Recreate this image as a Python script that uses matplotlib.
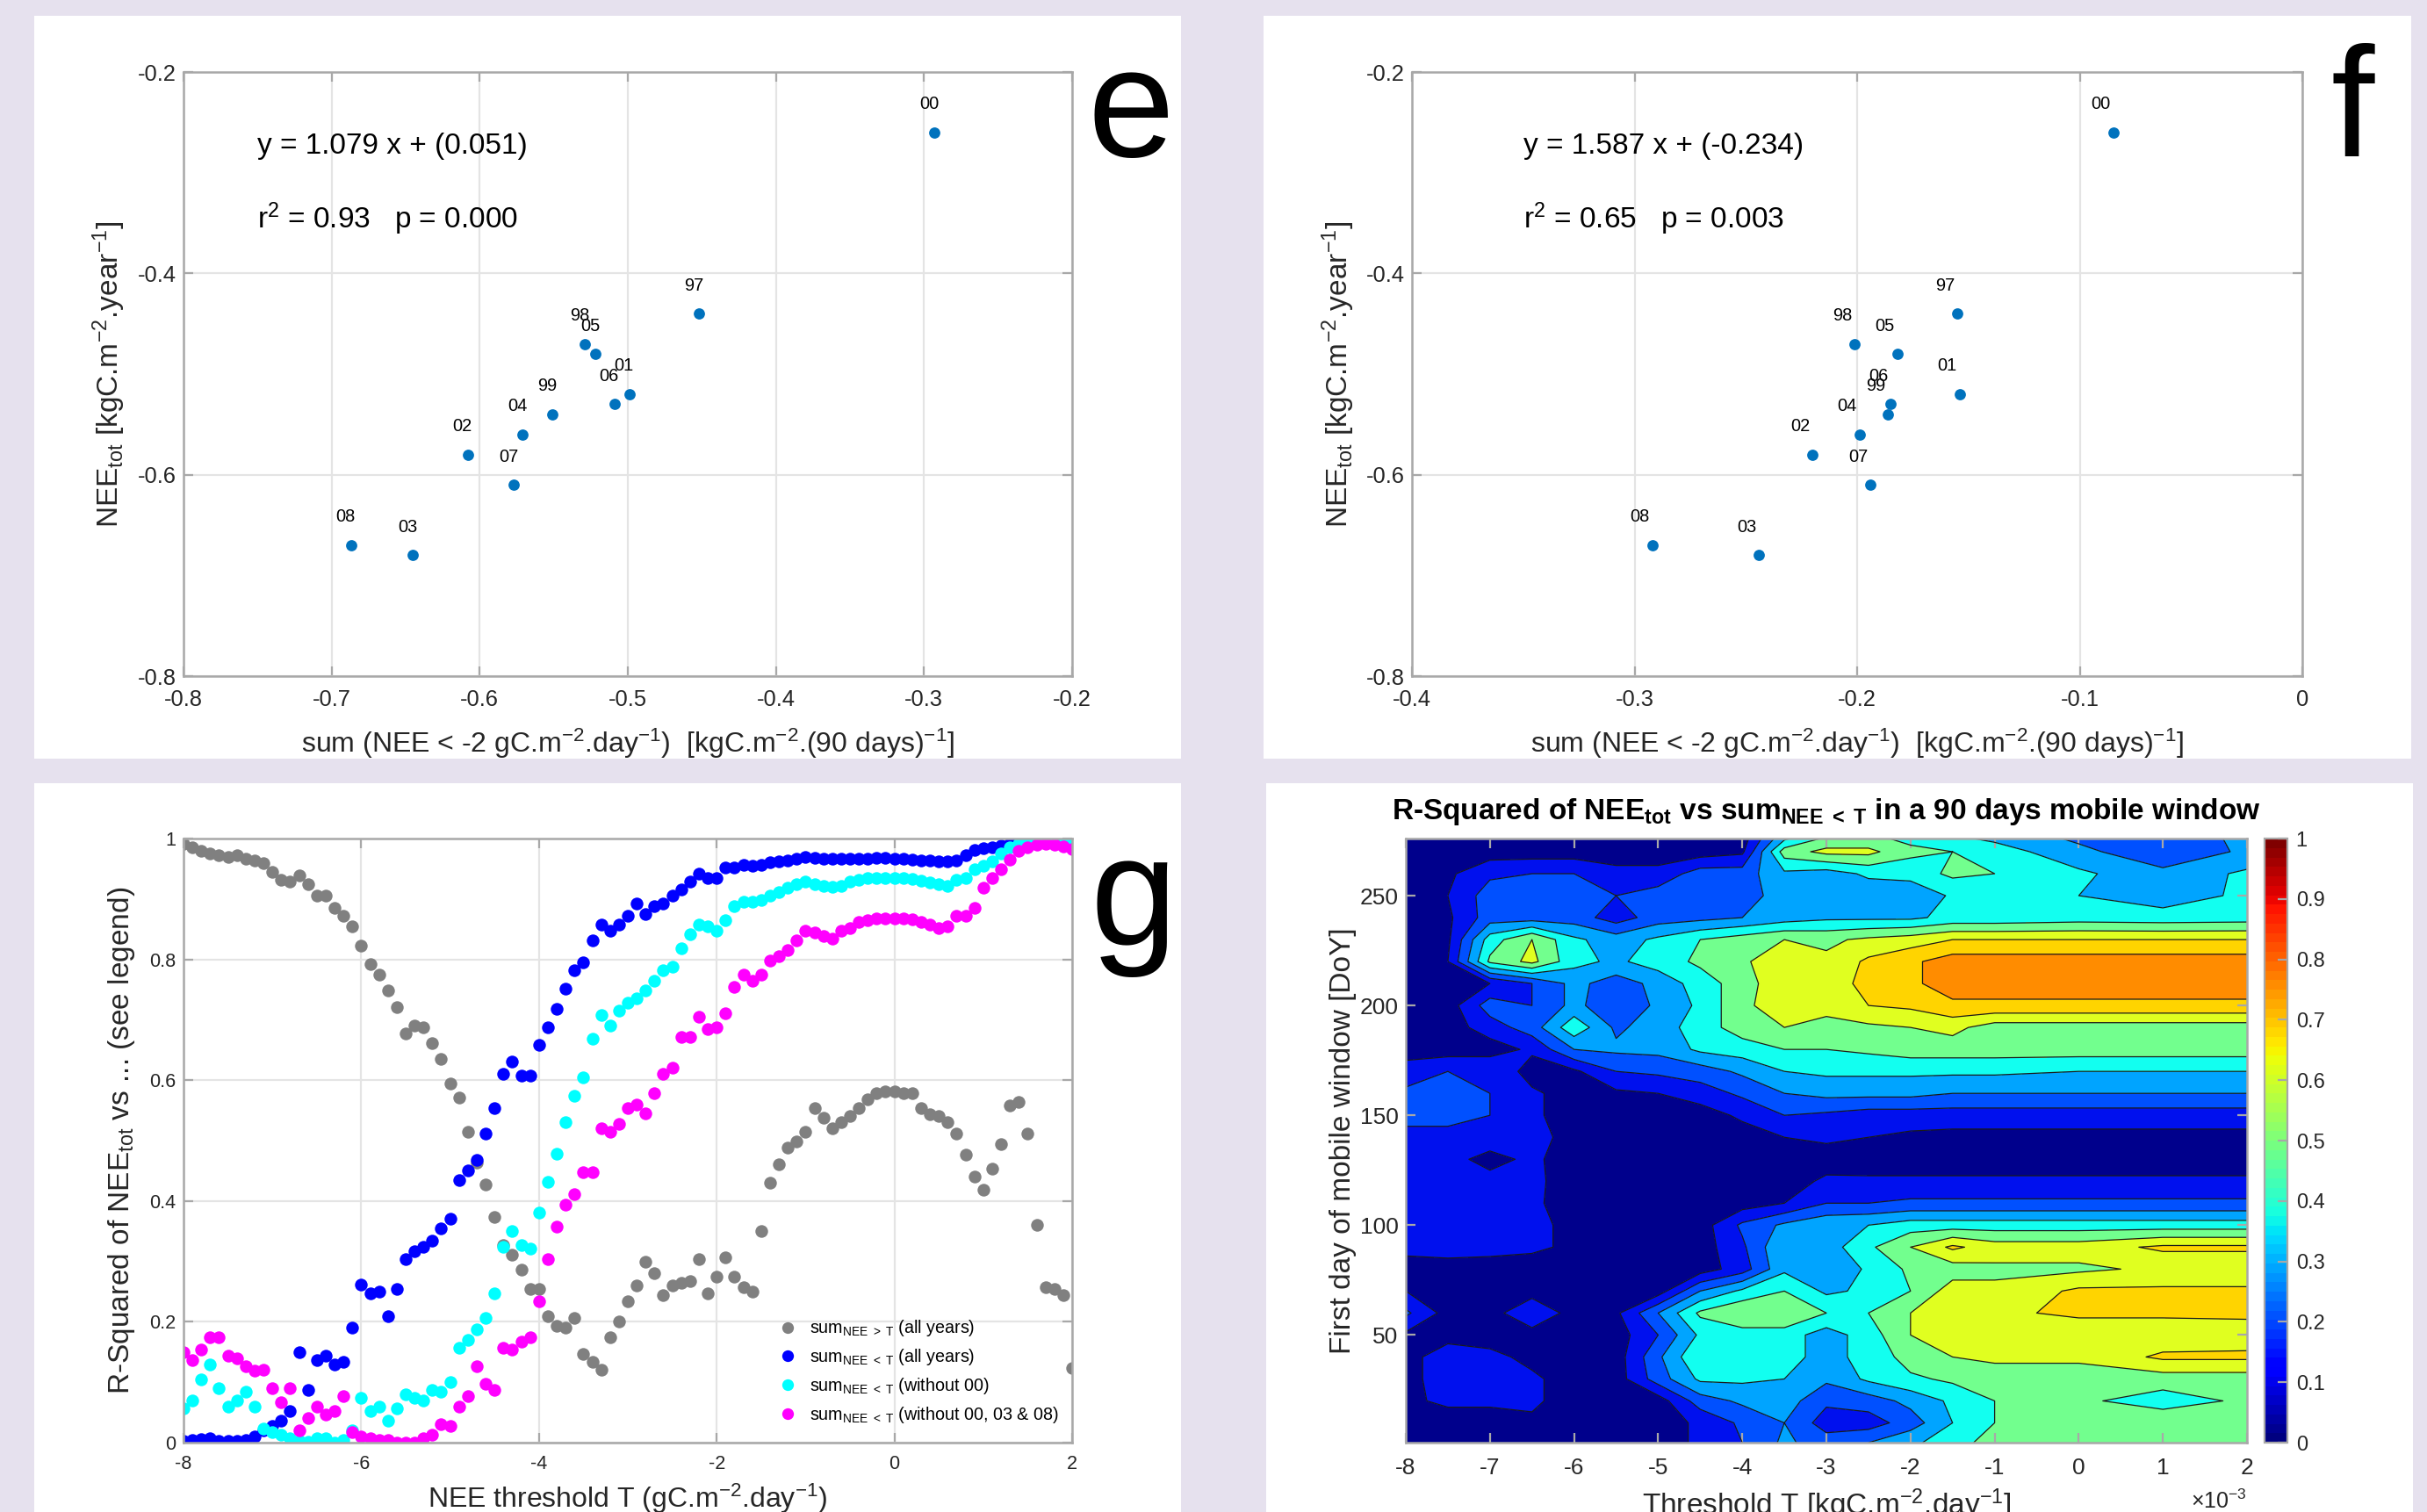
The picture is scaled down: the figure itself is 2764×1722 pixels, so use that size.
import numpy as np
import matplotlib
matplotlib.use("Agg")
import matplotlib.pyplot as plt
from matplotlib.patches import Rectangle
from matplotlib.colors import Normalize
from matplotlib.cm import ScalarMappable
from matplotlib.ticker import FuncFormatter

# ------------------------------------------------------------------
# fonts / global style
# ------------------------------------------------------------------
FONT = "Liberation Sans"
plt.rcParams["font.family"] = [FONT, "DejaVu Sans"]
plt.rcParams["mathtext.fontset"] = "custom"
plt.rcParams["mathtext.rm"] = FONT
plt.rcParams["mathtext.it"] = FONT + ":italic"
plt.rcParams["mathtext.bf"] = FONT + ":bold"
plt.rcParams["axes.unicode_minus"] = False

# ------------------------------------------------------------------
# panels e / f : annual NEE vs sum of NEE below -2 gC
# ------------------------------------------------------------------
years    = ["00", "97", "98", "05", "01", "06", "99", "04", "02", "07", "08", "03"]
nee_tot  = [-0.26, -0.44, -0.47, -0.48, -0.52, -0.53, -0.54, -0.56, -0.58, -0.61, -0.67, -0.68]
sum_e    = [-0.293, -0.452, -0.529, -0.522, -0.499, -0.509, -0.551, -0.571, -0.608, -0.577, -0.687, -0.645]
sum_f    = [-0.085, -0.155, -0.201, -0.182, -0.154, -0.185, -0.186, -0.199, -0.220, -0.194, -0.292, -0.244]

# ------------------------------------------------------------------
# panel g : R-squared vs NEE threshold T (gC.m-2.day-1)
# ------------------------------------------------------------------
thr_g = np.linspace(-8, 2, 101)   # threshold grid, 0.1 step

r2_above_all = [
    0.992, 0.985, 0.980, 0.975, 0.972, 0.970, 0.972, 0.967, 0.963, 0.959,
    0.945, 0.932, 0.929, 0.939, 0.925, 0.905, 0.905, 0.885, 0.872, 0.855,
    0.822, 0.792, 0.775, 0.748, 0.721, 0.678, 0.691, 0.688, 0.661, 0.635,
    0.595, 0.571, 0.514, 0.464, 0.428, 0.374, 0.327, 0.311, 0.287, 0.254,
    0.254, 0.210, 0.194, 0.190, 0.207, 0.147, 0.134, 0.120, 0.174, 0.200,
    0.234, 0.260, 0.300, 0.281, 0.244, 0.260, 0.264, 0.267, 0.304, 0.247,
    0.274, 0.306, 0.274, 0.257, 0.250, 0.350, 0.430, 0.461, 0.488, 0.498,
    0.514, 0.554, 0.538, 0.521, 0.531, 0.541, 0.554, 0.568, 0.578, 0.581,
    0.581, 0.578, 0.578, 0.554, 0.544, 0.541, 0.531, 0.511, 0.477, 0.441,
    0.418, 0.454, 0.494, 0.558, 0.564, 0.511, 0.361, 0.257, 0.254, 0.244,
    0.124]

r2_below_all = [
    0.003, 0.004, 0.006, 0.007, 0.003, 0.003, 0.003, 0.005, 0.010, 0.020,
    0.027, 0.037, 0.053, 0.150, 0.087, 0.137, 0.144, 0.130, 0.134, 0.190,
    0.261, 0.247, 0.250, 0.210, 0.254, 0.304, 0.317, 0.324, 0.334, 0.354,
    0.371, 0.434, 0.451, 0.468, 0.511, 0.554, 0.611, 0.631, 0.608, 0.608,
    0.658, 0.688, 0.718, 0.751, 0.782, 0.795, 0.832, 0.858, 0.848, 0.858,
    0.872, 0.892, 0.875, 0.888, 0.892, 0.905, 0.915, 0.929, 0.942, 0.935,
    0.935, 0.952, 0.952, 0.957, 0.955, 0.957, 0.961, 0.962, 0.963, 0.967,
    0.970, 0.968, 0.966, 0.966, 0.967, 0.967, 0.967, 0.967, 0.968, 0.968,
    0.967, 0.966, 0.965, 0.964, 0.963, 0.962, 0.962, 0.964, 0.972, 0.981,
    0.984, 0.986, 0.989, 0.992, 0.995, 0.997, 0.998, 0.998, 0.998, 0.998,
    0.998]

r2_below_no00 = [
    0.057, 0.070, 0.104, 0.130, 0.090, 0.060, 0.070, 0.084, 0.060, 0.023,
    0.017, 0.013, 0.007, 0.003, 0.002, 0.007, 0.007, 0.000, 0.005, 0.020,
    0.074, 0.053, 0.060, 0.037, 0.057, 0.080, 0.074, 0.070, 0.087, 0.084,
    0.100, 0.157, 0.170, 0.187, 0.207, 0.247, 0.324, 0.351, 0.327, 0.321,
    0.381, 0.431, 0.478, 0.531, 0.574, 0.605, 0.668, 0.708, 0.691, 0.715,
    0.728, 0.735, 0.748, 0.765, 0.782, 0.788, 0.818, 0.842, 0.858, 0.855,
    0.848, 0.865, 0.888, 0.895, 0.895, 0.898, 0.905, 0.912, 0.918, 0.925,
    0.929, 0.925, 0.922, 0.920, 0.922, 0.929, 0.932, 0.935, 0.935, 0.935,
    0.935, 0.935, 0.933, 0.930, 0.927, 0.925, 0.922, 0.932, 0.935, 0.949,
    0.955, 0.962, 0.975, 0.986, 0.992, 0.995, 0.995, 0.995, 0.995, 0.995,
    0.994]

r2_below_no000308 = [
    0.150, 0.137, 0.154, 0.174, 0.174, 0.144, 0.140, 0.127, 0.119, 0.120,
    0.090, 0.067, 0.090, 0.020, 0.041, 0.060, 0.047, 0.053, 0.077, 0.017,
    0.010, 0.007, 0.005, 0.005, 0.000, 0.000, 0.000, 0.007, 0.013, 0.030,
    0.027, 0.060, 0.077, 0.127, 0.097, 0.087, 0.157, 0.154, 0.167, 0.174,
    0.234, 0.304, 0.357, 0.394, 0.411, 0.448, 0.448, 0.521, 0.514, 0.528,
    0.554, 0.560, 0.545, 0.578, 0.611, 0.621, 0.671, 0.671, 0.705, 0.685,
    0.688, 0.711, 0.755, 0.775, 0.765, 0.775, 0.798, 0.805, 0.815, 0.832,
    0.848, 0.845, 0.838, 0.835, 0.848, 0.852, 0.862, 0.865, 0.868, 0.868,
    0.868, 0.868, 0.867, 0.862, 0.858, 0.852, 0.855, 0.872, 0.872, 0.885,
    0.918, 0.935, 0.949, 0.965, 0.979, 0.985, 0.990, 0.992, 0.990, 0.987,
    0.983]

series_g = [
    (r2_above_all,      "#808080", r"sum$_{\mathrm{NEE\ >\ T}}$ (all years)"),
    (r2_below_all,      "#0000FF", r"sum$_{\mathrm{NEE\ <\ T}}$ (all years)"),
    (r2_below_no00,     "#00FFFF", r"sum$_{\mathrm{NEE\ <\ T}}$ (without 00)"),
    (r2_below_no000308, "#FF00FF", r"sum$_{\mathrm{NEE\ <\ T}}$ (without 00, 03 & 08)"),
]

# ------------------------------------------------------------------
# panel h : R-squared map, threshold (x1e-3 kgC) vs first day of window
# ------------------------------------------------------------------
thr_h = [-8, -7.5, -7, -6.5, -6, -5.5, -5, -4.5, -4, -3.5, -3, -2.5, -2, -1.5, -1, 0, 1, 2]
doy_h = [1, 10, 20, 30, 40, 50, 60, 70, 80, 90, 100, 110, 120, 130, 140,
         150, 160, 170, 180, 190, 200, 210, 220, 230, 240, 250, 260, 270, 276]
r2_map = [
    [0.05, 0.05, 0.05, 0.05, 0.05, 0.05, 0.05, 0.12, 0.20, 0.32, 0.25, 0.30, 0.38, 0.45, 0.55, 0.60, 0.60, 0.60],
    [0.05, 0.05, 0.05, 0.08, 0.05, 0.05, 0.05, 0.12, 0.22, 0.30, 0.15, 0.15, 0.25, 0.40, 0.50, 0.60, 0.58, 0.60],
    [0.08, 0.12, 0.12, 0.12, 0.05, 0.05, 0.05, 0.25, 0.32, 0.35, 0.22, 0.25, 0.33, 0.42, 0.50, 0.52, 0.45, 0.52],
    [0.08, 0.13, 0.13, 0.12, 0.05, 0.05, 0.25, 0.42, 0.42, 0.40, 0.32, 0.42, 0.48, 0.52, 0.55, 0.55, 0.55, 0.55],
    [0.08, 0.13, 0.13, 0.07, 0.05, 0.05, 0.28, 0.50, 0.50, 0.42, 0.38, 0.42, 0.55, 0.60, 0.62, 0.62, 0.72, 0.72],
    [0.08, 0.08, 0.05, 0.05, 0.05, 0.05, 0.20, 0.42, 0.45, 0.45, 0.35, 0.45, 0.60, 0.62, 0.63, 0.63, 0.63, 0.65],
    [0.22, 0.06, 0.05, 0.20, 0.05, 0.08, 0.30, 0.52, 0.60, 0.60, 0.50, 0.50, 0.60, 0.65, 0.68, 0.72, 0.72, 0.72],
    [0.10, 0.05, 0.05, 0.05, 0.05, 0.05, 0.05, 0.30, 0.42, 0.50, 0.38, 0.42, 0.50, 0.65, 0.62, 0.72, 0.72, 0.72],
    [0.07, 0.07, 0.06, 0.05, 0.05, 0.05, 0.05, 0.05, 0.15, 0.38, 0.30, 0.42, 0.52, 0.55, 0.58, 0.58, 0.62, 0.62],
    [0.12, 0.13, 0.13, 0.12, 0.08, 0.05, 0.05, 0.05, 0.18, 0.40, 0.35, 0.48, 0.60, 0.72, 0.65, 0.65, 0.72, 0.72],
    [0.12, 0.12, 0.12, 0.12, 0.08, 0.05, 0.05, 0.05, 0.22, 0.32, 0.38, 0.40, 0.45, 0.45, 0.45, 0.45, 0.45, 0.45],
    [0.12, 0.13, 0.12, 0.12, 0.05, 0.05, 0.05, 0.05, 0.05, 0.10, 0.20, 0.20, 0.22, 0.22, 0.22, 0.22, 0.22, 0.22],
    [0.12, 0.13, 0.13, 0.12, 0.06, 0.05, 0.05, 0.05, 0.05, 0.05, 0.12, 0.12, 0.12, 0.12, 0.12, 0.12, 0.12, 0.12],
    [0.12, 0.13, 0.07, 0.12, 0.05, 0.05, 0.05, 0.05, 0.05, 0.05, 0.05, 0.04, 0.04, 0.04, 0.04, 0.04, 0.04, 0.04],
    [0.15, 0.18, 0.15, 0.12, 0.08, 0.05, 0.05, 0.05, 0.05, 0.10, 0.12, 0.10, 0.08, 0.07, 0.07, 0.07, 0.07, 0.07],
    [0.25, 0.22, 0.20, 0.12, 0.05, 0.05, 0.05, 0.05, 0.12, 0.20, 0.18, 0.15, 0.15, 0.15, 0.15, 0.15, 0.15, 0.15],
    [0.22, 0.22, 0.20, 0.12, 0.05, 0.08, 0.10, 0.15, 0.22, 0.30, 0.33, 0.33, 0.33, 0.30, 0.30, 0.30, 0.30, 0.30],
    [0.15, 0.20, 0.20, 0.05, 0.08, 0.20, 0.22, 0.25, 0.32, 0.40, 0.42, 0.42, 0.42, 0.42, 0.42, 0.40, 0.40, 0.40],
    [0.05, 0.05, 0.05, 0.12, 0.30, 0.32, 0.33, 0.42, 0.45, 0.50, 0.50, 0.52, 0.55, 0.55, 0.55, 0.55, 0.55, 0.55],
    [0.05, 0.05, 0.15, 0.25, 0.47, 0.28, 0.35, 0.45, 0.55, 0.60, 0.55, 0.58, 0.60, 0.63, 0.55, 0.55, 0.55, 0.55],
    [0.05, 0.05, 0.25, 0.20, 0.33, 0.22, 0.32, 0.42, 0.58, 0.65, 0.65, 0.70, 0.72, 0.78, 0.78, 0.78, 0.78, 0.78],
    [0.05, 0.05, 0.10, 0.20, 0.33, 0.25, 0.33, 0.45, 0.55, 0.68, 0.65, 0.73, 0.78, 0.85, 0.85, 0.85, 0.85, 0.85],
    [0.05, 0.10, 0.52, 0.63, 0.43, 0.38, 0.45, 0.52, 0.58, 0.68, 0.62, 0.72, 0.78, 0.85, 0.85, 0.85, 0.85, 0.85],
    [0.05, 0.08, 0.45, 0.60, 0.42, 0.35, 0.42, 0.50, 0.55, 0.60, 0.58, 0.62, 0.65, 0.70, 0.70, 0.70, 0.70, 0.70],
    [0.05, 0.08, 0.25, 0.25, 0.25, 0.15, 0.25, 0.27, 0.30, 0.35, 0.38, 0.38, 0.38, 0.43, 0.43, 0.45, 0.44, 0.45],
    [0.05, 0.10, 0.25, 0.25, 0.30, 0.20, 0.25, 0.20, 0.25, 0.35, 0.33, 0.33, 0.30, 0.42, 0.42, 0.40, 0.35, 0.42],
    [0.05, 0.08, 0.18, 0.20, 0.20, 0.13, 0.13, 0.25, 0.25, 0.38, 0.35, 0.42, 0.45, 0.52, 0.50, 0.42, 0.33, 0.42],
    [0.05, 0.05, 0.05, 0.05, 0.05, 0.05, 0.05, 0.05, 0.08, 0.55, 0.63, 0.63, 0.52, 0.50, 0.45, 0.33, 0.22, 0.32],
    [0.05, 0.05, 0.05, 0.05, 0.05, 0.05, 0.05, 0.05, 0.05, 0.38, 0.52, 0.52, 0.48, 0.42, 0.38, 0.28, 0.25, 0.32],
]
levels_h = [0, 0.1, 0.2, 0.3, 0.4, 0.5, 0.6, 0.7, 0.8, 0.9]
band_colors = ["#00008C", "#0010EE", "#0050FF", "#00A4FF", "#12FFF0",
               "#72FF8E", "#E0FF20", "#FFD400", "#FF8C00"]

# ------------------------------------------------------------------
# figure
# ------------------------------------------------------------------
W, H = 2764, 1722
fig = plt.figure(figsize=(W / 200, H / 200), dpi=200)
fig.patch.set_facecolor("#E6E1EE")

def px_box(x0, y0, x1, y1):
    # pixel box (top-left origin) -> figure fraction [l, b, w, h]
    return [x0 / W, 1 - y1 / H, (x1 - x0) / W, (y1 - y0) / H]

for box in [(39, 18, 1345, 864), (1439, 18, 2746, 864),
            (39, 892, 1345, 1722), (1442, 892, 2748, 1722)]:
    l, b, w, h = px_box(*box)
    fig.add_artist(Rectangle((l, b), w, h, transform=fig.transFigure,
                             facecolor="white", edgecolor="none", zorder=-1))

EDGE = "#a8a8a8"
GRID = "#e4e4e4"
TXT = "#262626"
gfmt = FuncFormatter(lambda v, p: f"{v:g}")

def style(ax, fs, pad_x, pad_y=3, grid=True):
    for s in ax.spines.values():
        s.set_color(EDGE)
        s.set_linewidth(0.9)
    ax.tick_params(direction="in", length=4, width=0.8, color=EDGE,
                   labelcolor=TXT, labelsize=fs, top=True, right=True)
    ax.tick_params(axis="x", pad=pad_x)
    ax.tick_params(axis="y", pad=pad_y)
    if grid:
        ax.grid(True, color=GRID, lw=0.8)
        ax.set_axisbelow(True)
    ax.xaxis.set_major_formatter(gfmt)
    ax.yaxis.set_major_formatter(gfmt)

xlab_ef = r"sum (NEE < -2 gC.m$^{-2}$.day$^{-1}$)  [kgC.m$^{-2}$.(90 days)$^{-1}$]"
ylab_ef = r"NEE$_{\mathrm{tot}}$ [kgC.m$^{-2}$.year$^{-1}$]"

def scatter_panel(ax, xs, xlim, xticks, fit_txt, r2_txt, txt_x, lab_dx, ylab_x):
    ax.plot(xs, nee_tot, "o", color="#0072BD", ms=4.6, mec="none", zorder=3)
    for xv, yv, lab in zip(xs, nee_tot, years):
        ax.annotate(lab, (xv, yv), xytext=(lab_dx, 32), textcoords="offset pixels",
                    ha="center", va="center", fontsize=7.2, color="black")
    ax.set_xlim(*xlim)
    ax.set_ylim(-0.8, -0.2)
    ax.set_xticks(xticks)
    ax.set_yticks([-0.8, -0.6, -0.4, -0.2])
    style(ax, 9.2, pad_x=5.5)
    ax.text(txt_x, -0.2811, fit_txt, fontsize=12, va="baseline", color="black")
    ax.text(txt_x, -0.3552, r2_txt, fontsize=12, va="baseline", color="black")
    ax.set_xlabel(xlab_ef, fontsize=11.5, color=TXT)
    ax.xaxis.set_label_coords(0.5, -0.084)
    ax.xaxis.label.set_va("top")
    ax.set_ylabel(ylab_ef, fontsize=12, color=TXT)
    ax.yaxis.set_label_coords(ylab_x, 0.5)

ax_e = fig.add_axes(px_box(209, 82, 1221, 770))
scatter_panel(ax_e, sum_e, (-0.8, -0.2), [-0.8, -0.7, -0.6, -0.5, -0.4, -0.3, -0.2],
              "y = 1.079 x + (0.051)", r"r$^2$ = 0.93   p = 0.000", -0.75, -6, -0.063)

ax_f = fig.add_axes(px_box(1608, 82, 2622, 770))
scatter_panel(ax_f, sum_f, (-0.4, 0), [-0.4, -0.3, -0.2, -0.1, 0],
              "y = 1.587 x + (-0.234)", r"r$^2$ = 0.65   p = 0.003", -0.35, -14, -0.062)

# ---- panel g
ax_g = fig.add_axes(px_box(209, 955, 1221, 1643))
handles = []
for vals, col, lab in series_g:
    h, = ax_g.plot(thr_g, vals, "o", color=col, ms=5.2, mec="none", label=lab)
    handles.append(h)
ax_g.set_xlim(-8, 2)
ax_g.set_ylim(0, 1)
ax_g.set_xticks([-8, -6, -4, -2, 0, 2])
ax_g.set_yticks([0, 0.2, 0.4, 0.6, 0.8, 1])
style(ax_g, 7.8, pad_x=5)
ax_g.set_xlabel(r"NEE threshold T (gC.m$^{-2}$.day$^{-1}$)", fontsize=11.5, color=TXT)
ax_g.xaxis.set_label_coords(0.5, -0.0654)
ax_g.xaxis.label.set_va("top")
ax_g.set_ylabel(r"R-Squared of NEE$_{\mathrm{tot}}$ vs ... (see legend)", fontsize=12, color=TXT)
ax_g.yaxis.set_label_coords(-0.0524, 0.5)
ax_g.legend(handles=handles, loc="lower left", bbox_to_anchor=(0.670, 0.029),
            frameon=False, fontsize=7.1, handlelength=1.0, handletextpad=0.75,
            borderpad=0, borderaxespad=0, labelspacing=0.5, markerscale=0.92)

# ---- panel h
ax_h = fig.add_axes(px_box(1601, 955, 2559, 1643))
ax_h.contourf(thr_h, doy_h, r2_map, levels=levels_h, colors=band_colors)
ax_h.contour(thr_h, doy_h, r2_map, levels=levels_h[1:-1], colors="#1a1a1a",
             linewidths=0.45)
ax_h.set_xlim(-8, 2)
ax_h.set_ylim(1, 276)
ax_h.set_xticks(range(-8, 3))
ax_h.set_yticks([50, 100, 150, 200, 250])
style(ax_h, 9.5, pad_x=6, grid=False)
ax_h.set_title(r"R-Squared of NEE$_{\mathbf{tot}}$ vs sum$_{\mathbf{NEE\ <\ T}}$ in a 90 days mobile window",
               fontsize=12, fontweight="bold", pad=8)
ax_h.set_xlabel(r"Threshold T [kgC.m$^{-2}$.day$^{-1}$]", fontsize=12, color=TXT)
ax_h.xaxis.set_label_coords(0.5, -0.0727)
ax_h.xaxis.label.set_va("top")
ax_h.set_ylabel("First day of mobile window [DoY]", fontsize=12, color=TXT)
ax_h.yaxis.set_label_coords(-0.058, 0.5)
ax_h.text(1.0, -0.097, r"$\times10^{-3}$", transform=ax_h.transAxes,
          ha="right", va="center", fontsize=9, color=TXT)

cax = fig.add_axes(px_box(2579, 955, 2605, 1643))
sm = ScalarMappable(norm=Normalize(0, 1), cmap=plt.get_cmap("jet", 64))
cb = fig.colorbar(sm, cax=cax, ticks=np.linspace(0, 1, 11))
cb.outline.set_edgecolor(EDGE)
cb.ax.tick_params(labelsize=8.5, direction="in", length=4, color=EDGE, labelcolor=TXT)
cb.ax.yaxis.set_major_formatter(gfmt)

# ---- panel letters
fig.text(1337 / W, 1 - 178 / H, "e", fontsize=64, ha="right", va="baseline")
fig.text(2704 / W, 1 - 178 / H, "f", fontsize=64, ha="right", va="baseline")
fig.text(1340 / W, 1 - 1076 / H, "g", fontsize=64, ha="right", va="baseline")

fig.savefig("out.png", dpi=200, facecolor=fig.get_facecolor())
